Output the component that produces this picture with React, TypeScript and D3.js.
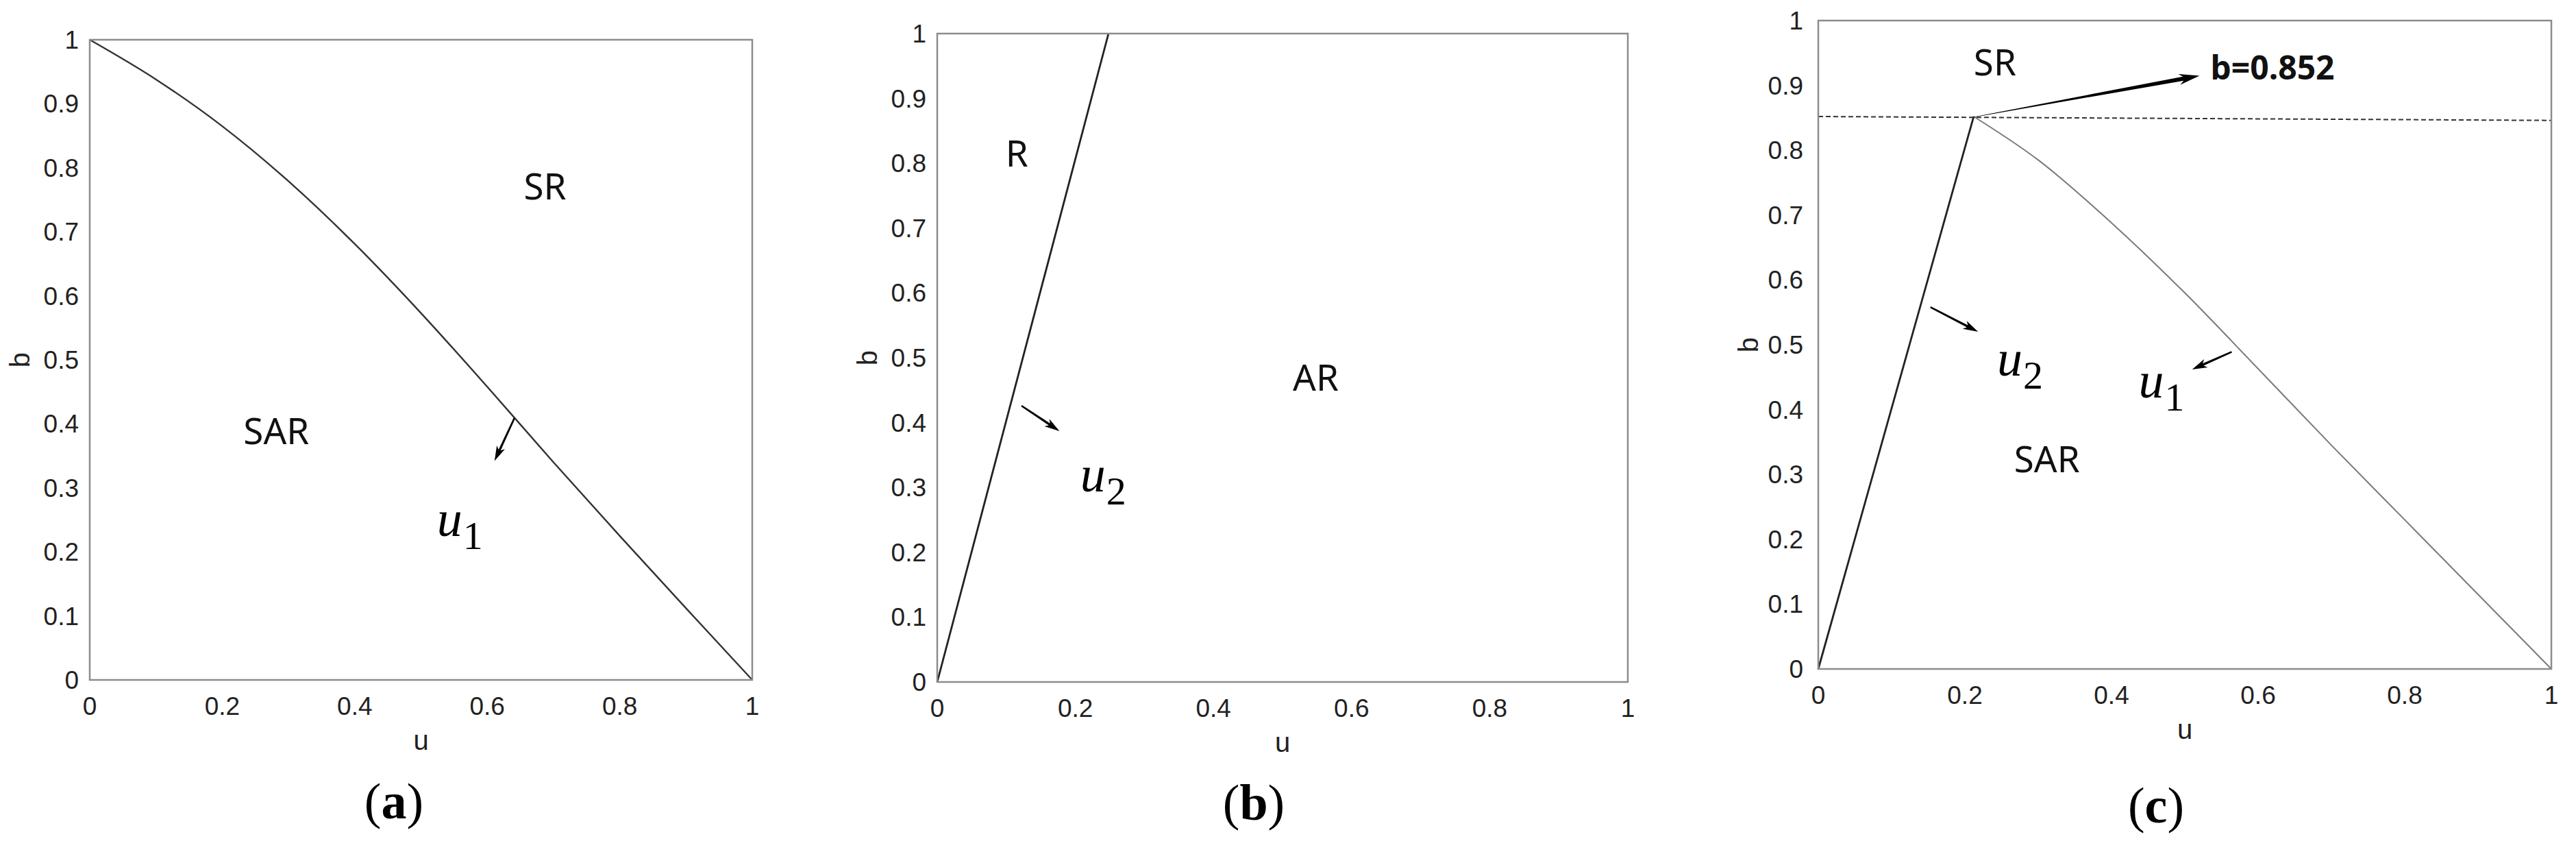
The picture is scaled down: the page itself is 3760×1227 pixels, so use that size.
import React from 'react';
import * as d3 from 'd3';

// ---------- data ----------
const U_TICKS = [0, 0.2, 0.4, 0.6, 0.8, 1];
const U_TICK_LABELS = ['0', '0.2', '0.4', '0.6', '0.8', '1'];
const B_TICKS = [0, 0.1, 0.2, 0.3, 0.4, 0.5, 0.6, 0.7, 0.8, 0.9, 1];
const B_TICK_LABELS = ['0', '0.1', '0.2', '0.3', '0.4', '0.5', '0.6', '0.7', '0.8', '0.9', '1'];

// panel (a): boundary u1
const A_U1_U = [0, 0.1, 0.2, 0.3, 0.4, 0.5, 0.6, 0.7, 0.8, 0.9, 1];
const A_U1_B = [1, 0.938, 0.865, 0.779, 0.681, 0.573, 0.458, 0.34, 0.225, 0.112, 0];

// panel (b): boundary u2
const B_U2_U = [0, 0.248];
const B_U2_B = [0, 1];

// panel (c): u2, u1 and level b = 0.852
const C_U2_U = [0, 0.212];
const C_U2_B = [0, 0.852];
const C_U1_U = [0.212, 0.3, 0.4, 0.5, 0.6, 0.7, 0.8, 0.9, 1];
const C_U1_B = [0.852, 0.785, 0.688, 0.58, 0.463, 0.345, 0.23, 0.115, 0];
const C_LEVEL_U = [0, 1];
const C_LEVEL_B = [0.852, 0.846];

// ---------- layout / styles ----------
type Series = { u: number[]; b: number[]; stroke: string; width: number; dash?: string };
type Region = { text: string; u: number; b: number; bold?: boolean; size?: number };
type Arrow = { u0: number; b0: number; u1: number; b1: number; tapered?: boolean };
type ULabel = { sub: string; u: number; b: number };
type Panel = {
  id: string;
  left: number; top: number; right: number; bottom: number;
  yGap: number;
  caption: string; capX: number; capY: number;
  series: Series[]; regions: Region[]; arrows: Arrow[]; ulabels: ULabel[];
};

const PANELS: Panel[] = [
  {
    id: 'a', left: 131, top: 58, right: 1098, bottom: 992, yGap: 16,
    caption: 'a', capX: 575, capY: 1194,
    series: [{ u: A_U1_U, b: A_U1_B, stroke: '#333', width: 2.4 }],
    regions: [
      { text: 'SR', u: 0.655, b: 0.751 },
      { text: 'SAR', u: 0.232, b: 0.368 },
    ],
    arrows: [{ u0: 0.641, b0: 0.409, u1: 0.611, b1: 0.342 }],
    ulabels: [{ sub: '1', u: 0.524, b: 0.225 }],
  },
  {
    id: 'b', left: 1368, top: 49, right: 2376, bottom: 995, yGap: 16,
    caption: 'b', capX: 1830, capY: 1196,
    series: [{ u: B_U2_U, b: B_U2_B, stroke: '#222', width: 2.8 }],
    regions: [
      { text: 'R', u: 0.099, b: 0.795 },
      { text: 'AR', u: 0.515, b: 0.449 },
    ],
    arrows: [{ u0: 0.122, b0: 0.426, u1: 0.177, b1: 0.387 }],
    ulabels: [{ sub: '2', u: 0.207, b: 0.294 }],
  },
  {
    id: 'c', left: 2654, top: 30, right: 3724, bottom: 976, yGap: 22,
    caption: 'c', capX: 3147, capY: 1200,
    series: [
      { u: C_LEVEL_U, b: C_LEVEL_B, stroke: '#333', width: 2, dash: '7,4' },
      { u: C_U1_U, b: C_U1_B, stroke: '#7a7a7a', width: 2 },
      { u: C_U2_U, b: C_U2_B, stroke: '#222', width: 2.8 },
    ],
    regions: [
      { text: 'SR', u: 0.212, b: 0.915 },
      { text: 'SAR', u: 0.267, b: 0.303 },
      { text: 'b=0.852', u: 0.535, b: 0.909, bold: true, size: 48 },
    ],
    arrows: [
      { u0: 0.211, b0: 0.851, u1: 0.52, b1: 0.915, tapered: true },
      { u0: 0.153, b0: 0.558, u1: 0.218, b1: 0.52 },
      { u0: 0.564, b0: 0.489, u1: 0.51, b1: 0.462 },
    ],
    ulabels: [
      { sub: '2', u: 0.244, b: 0.452 },
      { sub: '1', u: 0.437, b: 0.419 },
    ],
  },
];

const TICK_FONT = '"Liberation Sans", Arial, sans-serif';
const REGION_FONT = '"Noto Sans", "Open Sans", sans-serif';
const SERIF = '"Liberation Serif", "Times New Roman", serif';

function arrowPath(x0: number, y0: number, x1: number, y1: number, headLen: number, headW: number, w0: number, w1: number) {
  const dx = x1 - x0, dy = y1 - y0;
  const L = Math.hypot(dx, dy);
  const ux = dx / L, uy = dy / L;
  const nx = -uy, ny = ux;
  const bx = x1 - ux * headLen, by = y1 - uy * headLen;
  const nbx = x1 - ux * headLen * 0.8, nby = y1 - uy * headLen * 0.8;
  const pts = [
    [x0 + nx * w0 / 2, y0 + ny * w0 / 2],
    [nbx + nx * w1 / 2, nby + ny * w1 / 2],
    [bx + nx * headW / 2, by + ny * headW / 2],
    [x1, y1],
    [bx - nx * headW / 2, by - ny * headW / 2],
    [nbx - nx * w1 / 2, nby - ny * w1 / 2],
    [x0 - nx * w0 / 2, y0 - ny * w0 / 2],
  ];
  return 'M' + pts.map(p => `${p[0].toFixed(2)},${p[1].toFixed(2)}`).join('L') + 'Z';
}

function PanelView({ p }: { p: Panel }) {
  const x = d3.scaleLinear().domain([0, 1]).range([p.left, p.right]);
  const y = d3.scaleLinear().domain([0, 1]).range([p.bottom, p.top]);
  const line = d3.line<[number, number]>()
    .x(d => x(d[0]))
    .y(d => y(d[1]))
    .curve(d3.curveMonotoneX);
  const cx = (p.left + p.right) / 2;
  const cy = (p.top + p.bottom) / 2;
  return (
    <g>
      {p.series.map((s, i) => (
        <path
          key={i}
          d={line(s.u.map((u, k) => [u, s.b[k]] as [number, number])) || ''}
          fill="none"
          stroke={s.stroke}
          strokeWidth={s.width}
          strokeDasharray={s.dash}
        />
      ))}
      <rect
        x={p.left}
        y={p.top}
        width={p.right - p.left}
        height={p.bottom - p.top}
        fill="none"
        stroke="#8c8c8c"
        strokeWidth={2.5}
      />
      {B_TICKS.map((t, i) => (
        <text
          key={'y' + i}
          x={p.left - p.yGap}
          y={y(t) + 13}
          textAnchor="end"
          fontFamily={TICK_FONT}
          fontSize={37}
          fill="#222"
        >
          {B_TICK_LABELS[i]}
        </text>
      ))}
      {U_TICKS.map((t, i) => (
        <text
          key={'x' + i}
          x={x(t)}
          y={p.bottom + 51}
          textAnchor="middle"
          fontFamily={TICK_FONT}
          fontSize={37}
          fill="#222"
        >
          {U_TICK_LABELS[i]}
        </text>
      ))}
      <text x={cx} y={p.bottom + 102} textAnchor="middle" fontFamily={TICK_FONT} fontSize={40} fill="#222">u</text>
      <text
        transform={`translate(${p.left - 88},${cy}) rotate(-90)`}
        textAnchor="middle"
        fontFamily={TICK_FONT}
        fontSize={40}
        fill="#222"
      >
        b
      </text>
      {p.regions.map((r, i) => (
        <text
          key={'r' + i}
          x={x(r.u)}
          y={y(r.b)}
          fontFamily={REGION_FONT}
          fontSize={r.size || 53}
          fontWeight={r.bold ? 700 : 400}
          fill="#111"
        >
          {r.text}
        </text>
      ))}
      {p.arrows.map((a, i) => (
        <path
          key={'a' + i}
          d={a.tapered
            ? arrowPath(x(a.u0), y(a.b0), x(a.u1), y(a.b1), 30, 16, 0.6, 6)
            : arrowPath(x(a.u0), y(a.b0), x(a.u1), y(a.b1), 22, 13, 2.6, 3.4)}
          fill="#000"
        />
      ))}
      {p.ulabels.map((l, i) => (
        <text key={'u' + i} x={x(l.u)} y={y(l.b)} fontFamily={SERIF} fill="#000">
          <tspan fontSize={74} fontStyle="italic">u</tspan>
          <tspan fontSize={58} dx={1} dy={19}>{l.sub}</tspan>
        </text>
      ))}
      <text x={p.capX} y={p.capY} textAnchor="middle" fontFamily={SERIF} fontSize={74} fill="#000">
        <tspan>(</tspan>
        <tspan fontWeight={700}>{p.caption}</tspan>
        <tspan>)</tspan>
      </text>
    </g>
  );
}

export default function App() {
  const W = 3760, H = 1227;
  return (
    <svg
      width={W}
      height={H}
      viewBox={`0 0 ${W} ${H}`}
      style={{ position: 'absolute', left: 0, top: 0, display: 'block', background: '#fff' }}
    >
      <rect width={W} height={H} fill="#fff" />
      {PANELS.map(p => <PanelView key={p.id} p={p} />)}
    </svg>
  );
}
